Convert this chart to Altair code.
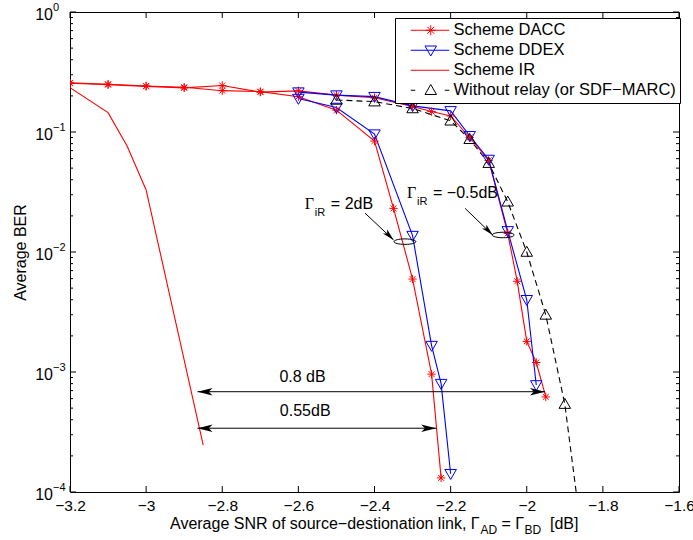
import altair as alt
import pandas as pd

# ---------------- series values ----------------
DACC_A_X = [-3.2, -3.1, -3.0, -2.9, -2.8, -2.7, -2.6, -2.5, -2.4, -2.35, -2.3, -2.25, -2.225]
DACC_A_Y = [0.257, 0.250, 0.242, 0.236, 0.221, 0.217, 0.197, 0.152, 0.084, 0.0231, 0.00595, 9.6e-4, 1.31e-4]
DACC_B_X = [-3.2, -3.1, -3.0, -2.9, -2.8, -2.7, -2.6, -2.5, -2.4, -2.3, -2.25, -2.2, -2.15,
            -2.1, -2.05, -2.025, -2.0, -1.975, -1.95]
DACC_B_Y = [0.255, 0.248, 0.240, 0.233, 0.244, 0.215, 0.220, 0.203, 0.193, 0.163, 0.148, 0.136, 0.090,
            0.058, 0.0143, 5.7e-3, 1.8e-3, 1.2e-3, 6.2e-4]
DDEX_A_X = [-2.6, -2.5, -2.4, -2.3, -2.25, -2.225, -2.2]
DDEX_A_Y = [0.190, 0.160, 0.096, 0.0137, 1.66e-3, 8.0e-4, 1.42e-4]
DDEX_B_X = [-2.6, -2.5, -2.4, -2.3, -2.2, -2.15, -2.1, -2.05, -2.0, -1.975]
DDEX_B_Y = [0.215, 0.203, 0.197, 0.165, 0.150, 0.093, 0.059, 0.015, 4.0e-3, 7.8e-4]
IR_X = [-3.2, -3.1, -3.05, -3.0, -2.85]
IR_Y = [0.234, 0.145, 0.0764, 0.0329, 2.46e-4]
WR_X = [-2.5, -2.4, -2.3, -2.2, -2.15, -2.1, -2.05, -2.0, -1.95, -1.9, -1.85]
WR_Y = [0.185, 0.179, 0.157, 0.124, 0.087, 0.055, 0.0262, 0.010, 2.99e-3, 5.4e-4, 3.2e-5]

SCHEMES = ["Scheme DACC", "Scheme DDEX", "Scheme IR", "Without relay (or SDF\u2212MARC)"]

TICK_X = [-3.2, -3.0, -2.8, -2.6, -2.4, -2.2, -2.0, -1.8, -1.6]
TICK_Y = [1e-4, 1e-3, 1e-2, 1e-1, 1.0]
TICK_Y_EXP = ["\u22124", "\u22123", "\u22122", "\u22121", "0"]
TICK_Y_MINOR = [m * d for d in [1e-4, 1e-3, 1e-2, 1e-1] for m in range(2, 10)]

# annotations
SPAN_LABELS = ["0.8 dB", "0.55dB"]
SPAN_LABEL_X = [-2.589, -2.582]
SPAN_LABEL_Y = [9.0e-4, 4.75e-4]
SPAN_X1 = [-2.865, -2.865]
SPAN_X2 = [-1.952, -2.238]
SPAN_Y = [6.85e-4, 3.40e-4]

GAMMA_EQ = ["= 2dB", "= \u22120.5dB"]
GAMMA_X = [-2.583, -2.3146]
GAMMA_Y = [0.0228, 0.0282]
POINTER_X1 = [-2.425, -2.162]
POINTER_Y1 = [0.0211, 0.0231]
POINTER_X2 = [-2.350, -2.0895]
POINTER_Y2 = [0.0126, 0.01386]
ELLIPSE_X = [-2.320, -2.062]
ELLIPSE_Y = [0.0122, 0.01386]

TITLE_PARTS = ["Average SNR of source\u2212destionation link, \u0393", "AD", "= \u0393", "BD", "[dB]"]

# ---------------- styles ----------------
RED, BLUE, BLACK = "#ff0000", "#0000ff", "#000000"
COLORS = [RED, BLUE, RED, BLACK]
FONT = "Liberation Sans"

# ---------------- tables ----------------
curves = [
    ("dacc_a", SCHEMES[0], DACC_A_X, DACC_A_Y),
    ("dacc_b", SCHEMES[0], DACC_B_X, DACC_B_Y),
    ("ddex_a", SCHEMES[1], DDEX_A_X, DDEX_A_Y),
    ("ddex_b", SCHEMES[1], DDEX_B_X, DDEX_B_Y),
    ("ir", SCHEMES[2], IR_X, IR_Y),
    ("wr", SCHEMES[3], WR_X, WR_Y),
]
rows = []
for cid, sch, xs, ys in curves:
    for xv, yv in zip(xs, ys):
        rows.append({"curve": cid, "scheme": sch, "x": xv, "y": yv})
df = pd.DataFrame(rows)
df_red = df[df.scheme.isin([SCHEMES[0], SCHEMES[2]])]
df_blue = df[df.scheme == SCHEMES[1]]
df_wr = df[df.scheme == SCHEMES[3]]
df_dacc = df[df.scheme == SCHEMES[0]]

xscale = alt.Scale(domain=[-3.2, -1.6], nice=False, zero=False)
yscale = alt.Scale(type="log", domain=[1e-4, 1], nice=False)

X_AX = alt.Axis(values=TICK_X, format=".1~f", ticks=False, domain=False, grid=False,
                labelFontSize=15.5, labelPadding=6, labelFlush=False, labelOverlap=False,
                labelColor="black", title=None)
Y_AX = alt.Axis(values=TICK_Y, labels=False, ticks=False, domain=False, grid=False,
                title="Average BER", titleFontSize=16, titleFontWeight="normal",
                titleColor="black", titleX=-50, titleY=240, titleAngle=270,
                titleAlign="center", titleBaseline="middle")

X = alt.X("x:Q", scale=xscale, axis=X_AX)
Y = alt.Y("y:Q", scale=yscale, axis=Y_AX)

STAR = "M -1 0 L 1 0 M 0 -1 L 0 1 M -0.7 -0.7 L 0.7 0.7 M -0.7 0.7 L 0.7 -0.7"
TRI_DOWN = "M -1.15 -0.85 L 1.15 -0.85 L 0 1.15 Z"
TRI_UP = "M -1.15 0.85 L 1.15 0.85 L 0 -1.15 Z"
LEG_PATHS = [
    "M -4.0 0 L 3.7 0 " + STAR,
    "M -4.0 0 L 3.7 0 " + TRI_DOWN,
    "M -4.0 0 L 3.7 0",
    "M -4.0 0 L -3.1 0 M 2.8 0 L 3.7 0 " + TRI_UP,
]
ARROW = "M 0 0 L -2 -0.5 L -1.5 0 L -2 0.5 Z"
ELLIPSE = ("M -1 0 C -1 -0.138 -0.552 -0.25 0 -0.25 C 0.552 -0.25 1 -0.138 1 0 "
           "C 1 0.138 0.552 0.25 0 0.25 C -0.552 0.25 -1 0.138 -1 0 Z")

LEG = alt.Legend(title=None, orient="none", legendX=325, legendY=6, labelFontSize=16.5,
                 labelFont=FONT, labelColor="black", labelLimit=400, symbolSize=100,
                 symbolStrokeWidth=1, symbolOffset=23.5, labelOffset=14.5, rowPadding=3,
                 padding=4, strokeColor="black", fillColor="white", zindex=1)

# ---- curves ----
lines_red = alt.Chart(df_red).mark_line(strokeWidth=1.1, color=RED, clip=True).encode(
    x=X, y=Y, detail="curve:N")
lines_blue = alt.Chart(df_blue).mark_line(strokeWidth=1.1, color=BLUE, clip=True).encode(
    x=X, y=Y, detail="curve:N")
wr_line = alt.Chart(df_wr).mark_line(strokeWidth=1.1, color=BLACK, strokeDash=[6, 4], clip=True).encode(
    x=X, y=Y)
dacc_pts = alt.Chart(df_dacc).mark_point(shape=STAR, size=70, filled=False, strokeWidth=1, color=RED,
                                         opacity=1, clip=True).encode(x=X, y=Y)
ddex_pts = alt.Chart(df_blue).mark_point(shape=TRI_DOWN, size=100, filled=False, strokeWidth=1, color=BLUE,
                                         opacity=1, clip=True).encode(x=X, y=Y)
wr_pts = alt.Chart(df_wr).mark_point(shape=TRI_UP, size=100, filled=False, strokeWidth=1, color=BLACK,
                                     opacity=1, clip=True).encode(x=X, y=Y)

# legend-only layer: its points lie outside the plot and are clipped away
legend_df = pd.DataFrame({"scheme": SCHEMES, "x": [-9.0] * 4, "y": [0.5] * 4})
legend_layer = alt.Chart(legend_df).mark_point(
    filled=False, strokeWidth=1, opacity=1, clip=True).encode(
    x=X, y=Y,
    color=alt.Color("scheme:N", scale=alt.Scale(domain=SCHEMES, range=COLORS), legend=LEG),
    shape=alt.Shape("scheme:N", scale=alt.Scale(domain=SCHEMES, range=LEG_PATHS), legend=LEG))

# ---- inward MATLAB-style ticks ----
tx = pd.DataFrame({"x": TICK_X})
tyM = pd.DataFrame({"y": TICK_Y, "e": TICK_Y_EXP, "b": ["10"] * len(TICK_Y)})
tym = pd.DataFrame({"y": TICK_Y_MINOR})
XD_L = alt.XDatum(-3.2, type="quantitative", scale=xscale, axis=X_AX)
XD_R = alt.XDatum(-1.6, type="quantitative", scale=xscale, axis=X_AX)
YD_B = alt.YDatum(1e-4, type="quantitative", scale=yscale, axis=Y_AX)
YD_T = alt.YDatum(1.0, type="quantitative", scale=yscale, axis=Y_AX)
tick_kw = dict(thickness=1, color="black", opacity=1)
ticks = [
    alt.Chart(tx).mark_tick(orient="vertical", size=6, yOffset=-3, **tick_kw).encode(x=X, y=YD_B),
    alt.Chart(tx).mark_tick(orient="vertical", size=6, yOffset=3, **tick_kw).encode(x=X, y=YD_T),
    alt.Chart(tyM).mark_tick(orient="horizontal", size=6, xOffset=3, **tick_kw).encode(y=Y, x=XD_L),
    alt.Chart(tyM).mark_tick(orient="horizontal", size=6, xOffset=-3, **tick_kw).encode(y=Y, x=XD_R),
    alt.Chart(tym).mark_tick(orient="horizontal", size=3, xOffset=1.5, **tick_kw).encode(y=Y, x=XD_L),
    alt.Chart(tym).mark_tick(orient="horizontal", size=3, xOffset=-1.5, **tick_kw).encode(y=Y, x=XD_R),
]
# y tick labels 10^k drawn as base + superscript
ylab_base = alt.Chart(tyM).mark_text(fontSize=16, font=FONT, color="black", align="right",
                                     baseline="alphabetic", dx=-17, dy=8).encode(
    x=XD_L, y=Y, text="b:N")
ylab_exp = alt.Chart(tyM).mark_text(fontSize=11, font=FONT, color="black", align="left",
                                    baseline="alphabetic", dx=-17, dy=-1).encode(
    x=XD_L, y=Y, text="e:N")

# ---- annotations ----
span_df = pd.DataFrame({"x": SPAN_X1, "x2": SPAN_X2, "y": SPAN_Y})
span_rules = alt.Chart(span_df).mark_rule(color="black", strokeWidth=1).encode(
    x=X, x2="x2:Q", y=Y)
heads_df = pd.DataFrame({
    "x": SPAN_X1 + SPAN_X2 + POINTER_X2,
    "y": SPAN_Y + SPAN_Y + POINTER_Y2,
    "ang": [180, 180, 0, 0, 45, 45],
    "kind": ["span"] * 4 + ["ptr"] * 2,
})
span_heads = alt.Chart(heads_df[heads_df.kind == "span"]).mark_point(
    shape=ARROW, size=225, filled=True, color="black", opacity=1, strokeWidth=0).encode(
    x=X, y=Y, angle=alt.Angle("ang:Q", scale=None))
ptr_heads = alt.Chart(heads_df[heads_df.kind == "ptr"]).mark_point(
    shape=ARROW, size=144, filled=True, color="black", opacity=1, strokeWidth=0).encode(
    x=X, y=Y, angle=alt.Angle("ang:Q", scale=None))
span_text = alt.Chart(pd.DataFrame({"x": SPAN_LABEL_X, "y": SPAN_LABEL_Y, "t": SPAN_LABELS})).mark_text(
    fontSize=16, font=FONT, color="black", baseline="middle", align="center").encode(
    x=X, y=Y, text="t:N")

ptr_df = pd.DataFrame({"x": POINTER_X1, "y": POINTER_Y1, "x2": POINTER_X2, "y2": POINTER_Y2})
ptr_rules = alt.Chart(ptr_df).mark_rule(color="black", strokeWidth=1).encode(
    x=X, y=Y, x2="x2:Q", y2="y2:Q")
ell = alt.Chart(pd.DataFrame({"x": ELLIPSE_X, "y": ELLIPSE_Y})).mark_point(
    shape=ELLIPSE, size=480, filled=False, color="black", strokeWidth=1, opacity=1).encode(x=X, y=Y)

g_df = pd.DataFrame({"x": GAMMA_X, "y": GAMMA_Y, "g": ["\u0393", "\u0393"], "s": ["iR", "iR"], "e": GAMMA_EQ})
g_big = alt.Chart(g_df).mark_text(fontSize=16, font="Liberation Serif", color="black",
                                  align="left", baseline="alphabetic").encode(x=X, y=Y, text="g:N")
g_sub = alt.Chart(g_df).mark_text(fontSize=11, font=FONT, color="black", align="left",
                                  baseline="alphabetic", dx=10, dy=7).encode(x=X, y=Y, text="s:N")
g_eq = alt.Chart(g_df).mark_text(fontSize=16, font=FONT, color="black", align="left",
                                 baseline="alphabetic", dx=26).encode(x=X, y=Y, text="e:N")

# ---- x-axis title with subscripts ----
title_pos = [(100, 517, 16), (410.4, 522, 12), (431.5, 517, 16), (454.4, 522, 12), (480, 517, 16)]
title_layers = []
for part, (px, py, fs) in zip(TITLE_PARTS, title_pos):
    title_layers.append(
        alt.Chart(pd.DataFrame({"t": [part]})).mark_text(
            fontSize=fs, font=FONT, color="black", align="left", baseline="alphabetic").encode(
            x=alt.value(px), y=alt.value(py), text="t:N"))

chart = alt.layer(
    lines_red, lines_blue, wr_line, dacc_pts, ddex_pts, wr_pts,
    *ticks, ylab_base, ylab_exp,
    span_rules, span_heads, span_text,
    ptr_rules, ptr_heads, ell, g_big, g_sub, g_eq,
    *title_layers,
    legend_layer,
).properties(
    width=609, height=480,
    autosize=alt.AutoSizeParams(type="none"),
    padding={"left": 70, "top": 12, "right": 14, "bottom": 48},
    background="white",
).configure(font=FONT).configure_view(stroke="black", strokeWidth=1)

chart.save("out.html", embed_options={"renderer": "svg", "actions": False})
